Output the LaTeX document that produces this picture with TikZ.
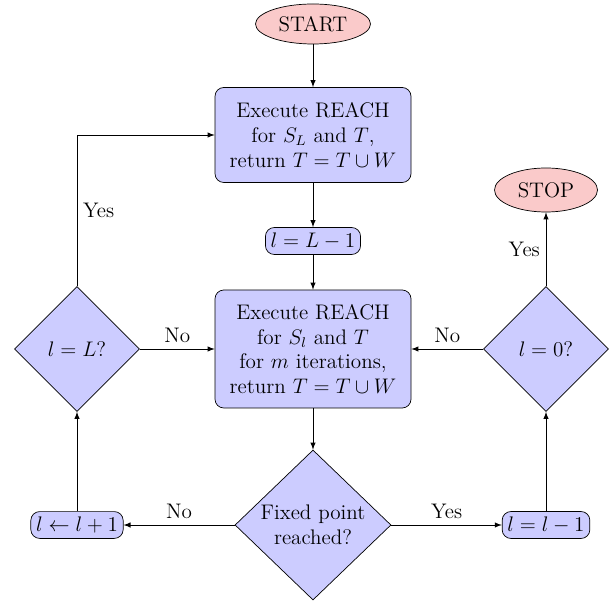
\documentclass[tikz,border=0pt]{standalone}
\usepackage{xcolor}
\usepackage{tikz}
\usetikzlibrary{shapes.geometric}
\definecolor{boxblue}{HTML}{CCCCFF}
\definecolor{termred}{HTML}{FACACA}

\tikzset{
  terminal/.style={ellipse, draw, fill=termred, font=\large, minimum width=2.3cm, minimum height=0.8cm},
  process/.style={draw, fill=boxblue, rounded corners=5pt, font=\large, align=center, inner sep=3pt},
  decision/.style={diamond, draw, fill=boxblue, font=\large, align=center, inner sep=0pt, minimum width=2.5cm, minimum height=2.5cm},
  flow/.style={draw, -latex}
}

\begin{document}
\begin{tikzpicture}
\useasboundingbox (0,0) rectangle (12.3,-12.02);

% main column
\node[terminal] (start) at (6.26,-0.48) {START};
\node[process, minimum width=3.92cm, minimum height=1.9cm] (reachL) at (6.26,-2.7)
  {Execute REACH\\ for $S_L$ and $T$,\\ return $T=T\cup W$};
\node[process] (setl) at (6.26,-4.82) {$l=L-1$};
\node[process, minimum width=3.92cm, minimum height=2.36cm] (reachl) at (6.26,-6.98)
  {Execute REACH\\ for $S_l$ and $T$\\ for $m$ iterations,\\ return $T=T\cup W$};
\node[decision, minimum width=3.12cm, minimum height=3cm] (fixed) at (6.26,-10.5)
  {Fixed point\\ reached?};

% left loop
\node[decision] (isL) at (1.54,-6.98) {$l=L?$};
\node[process] (incl) at (1.54,-10.5) {$l\leftarrow l+1$};

% right loop
\node[decision] (iszero) at (10.92,-6.98) {$l=0?$};
\node[process] (decl) at (10.92,-10.5) {$l=l-1$};
\node[terminal, minimum width=2.06cm, minimum height=0.88cm] (stop) at (10.92,-3.8) {STOP};

\draw[flow] (start) -- (reachL);
\draw[flow] (reachL) -- (setl);
\draw[flow] (setl) -- (reachl);
\draw[flow] (reachl) -- (fixed);
\draw[flow] (fixed.west) -- node[above, font=\large] {No} (incl.east);
\draw[flow] (fixed.east) -- node[above, font=\large] {Yes} (decl.west);
\draw[flow] (incl) -- (isL);
\draw[flow] (isL.north) -- node[right, font=\large] {Yes} (isL.north |- reachL.west) -- (reachL.west);
\draw[flow] (isL.east) -- node[above, font=\large] {No} (reachl.west);
\draw[flow] (decl) -- (iszero);
\draw[flow] (iszero.west) -- node[above, font=\large] {No} (reachl.east);
\draw[flow] (iszero.north) -- node[left, font=\large] {Yes} (stop.south);
\end{tikzpicture}
\end{document}
